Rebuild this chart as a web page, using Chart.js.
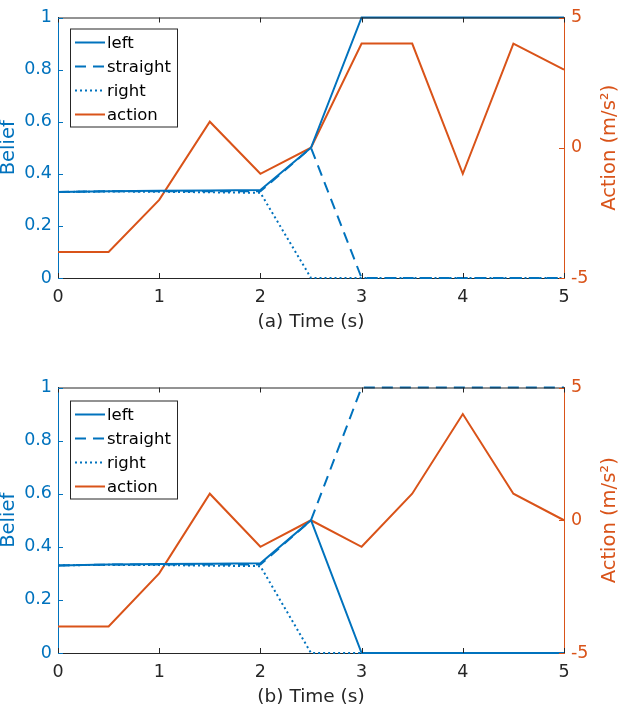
<!DOCTYPE html>
<html>
<head>
<meta charset="utf-8">
<script src="https://cdn.jsdelivr.net/npm/chart.js@4.4.0/dist/chart.umd.min.js"></script>
<style>
  html, body { margin: 0; padding: 0; background: #fff; }
  #wrap { position: relative; width: 624px; height: 710px; }
  canvas { position: absolute; left: 0; }
  #chartA { top: 0; }
  #chartB { top: 370px; }
</style>
</head>
<body>
<div id="wrap">
  <canvas id="chartA" width="624" height="340"></canvas>
  <canvas id="chartB" width="624" height="340"></canvas>
</div>
<script>
// data
const time = [0, 0.5, 1, 1.5, 2, 2.5, 3, 3.5, 4, 4.5, 5];
const xTicks = [0, 1, 2, 3, 4, 5];
const beliefTicks = [0, 0.2, 0.4, 0.6, 0.8, 1];
const actionTicks = [-5, 0, 5];

// (a)
const leftA     = [0.33, 0.333, 0.335, 0.336, 0.338, 0.5, 1, 1, 1, 1, 1];
const straightA = [0.33, 0.333, 0.333, 0.333, 0.333, 0.5, 0, 0, 0, 0, 0];
const rightA    = [0.33, 0.332, 0.331, 0.329, 0.327, 0, 0, 0, 0, 0, 0];
const actionA   = [-4, -4, -2, 1, -1, 0, 4, 4, -1, 4, 3];

// (b)
const leftB     = [0.33, 0.333, 0.335, 0.336, 0.338, 0.5, 0, 0, 0, 0, 0];
const straightB = [0.33, 0.333, 0.333, 0.333, 0.333, 0.5, 1, 1, 1, 1, 1];
const rightB    = [0.33, 0.332, 0.331, 0.329, 0.327, 0, 0, 0, 0, 0, 0];
const actionB   = [-4, -4, -2, 1, -1, 0, -1, 1, 4, 1, 0];

const BLUE = '#0072BD';
const ORANGE = '#D95319';
const DARK = '#262626';
const FONT = '"DejaVu Sans", sans-serif';

function pts(vals) {
  return time.map((t, i) => ({ x: t, y: vals[i] }));
}

// ticks pointing inward, top border, right axis title, boxed legend
const matlabLook = {
  id: 'matlabLook',
  afterDraw(chart) {
    const c = chart.ctx;
    const a = chart.chartArea;
    const xs = chart.scales.x, ys = chart.scales.y, y2 = chart.scales.y2;
    c.save();
    c.lineWidth = 1;

    c.strokeStyle = DARK;
    c.beginPath();
    c.moveTo(a.left, a.top + 0.5);
    c.lineTo(a.right, a.top + 0.5);
    xs.ticks.forEach(t => {
      const px = Math.round(xs.getPixelForValue(t.value)) + 0.5;
      c.moveTo(px, a.bottom); c.lineTo(px, a.bottom - 5);
      c.moveTo(px, a.top); c.lineTo(px, a.top + 5);
    });
    c.stroke();

    c.strokeStyle = BLUE;
    c.beginPath();
    ys.ticks.forEach(t => {
      const py = Math.round(ys.getPixelForValue(t.value)) + 0.5;
      c.moveTo(a.left, py); c.lineTo(a.left + 5, py);
    });
    c.stroke();

    c.strokeStyle = ORANGE;
    c.beginPath();
    y2.ticks.forEach(t => {
      const py = Math.round(y2.getPixelForValue(t.value)) + 0.5;
      c.moveTo(a.right, py); c.lineTo(a.right - 5, py);
    });
    c.stroke();

    // right axis title, reading bottom to top
    c.fillStyle = ORANGE;
    c.font = '19.5px ' + FONT;
    c.textAlign = 'center';
    c.textBaseline = 'middle';
    c.translate(610, (a.top + a.bottom) / 2);
    c.rotate(-Math.PI / 2);
    c.fillText('Action (m/s²)', 0, 0);
    c.restore();

    // legend
    const opts = chart.options.plugins.boxLegend;
    const bx = a.left + 12, by = a.top + opts.offsetY;
    c.save();
    c.fillStyle = '#fff';
    c.fillRect(bx, by, 107, 98);
    c.strokeStyle = DARK;
    c.lineWidth = 1;
    c.strokeRect(bx + 0.5, by + 0.5, 107, 98);
    c.font = '16.5px ' + FONT;
    c.textAlign = 'left';
    c.textBaseline = 'middle';
    chart.data.datasets.forEach((ds, i) => {
      const ly = by + 14 + i * 24;
      c.strokeStyle = ds.borderColor;
      c.lineWidth = ds.borderWidth;
      c.setLineDash(ds.borderDash || []);
      c.beginPath();
      c.moveTo(bx + 5, ly);
      c.lineTo(bx + 35, ly);
      c.stroke();
      c.fillStyle = '#000';
      c.fillText(ds.label, bx + 37, ly + 1);
    });
    c.restore();
  }
};

function makeChart(id, series, label, pad, legendY) {
  const ctx = document.getElementById(id).getContext('2d');
  return new Chart(ctx, {
    type: 'line',
    data: {
      datasets: [
        { label: 'left', data: pts(series[0]), yAxisID: 'y',
          borderColor: BLUE, borderWidth: 2, borderDash: [] },
        { label: 'straight', data: pts(series[1]), yAxisID: 'y',
          borderColor: BLUE, borderWidth: 2, borderDash: [11, 7] },
        { label: 'right', data: pts(series[2]), yAxisID: 'y',
          borderColor: BLUE, borderWidth: 2, borderDash: [2, 3] },
        { label: 'action', data: pts(series[3]), yAxisID: 'y2',
          borderColor: ORANGE, borderWidth: 2, borderDash: [] }
      ]
    },
    options: {
      responsive: false,
      animation: false,
      layout: { padding: pad },
      elements: {
        point: { radius: 0 },
        line: { tension: 0, fill: false }
      },
      datasets: { line: { clip: 4 } },
      plugins: {
        legend: { display: false },
        tooltip: { enabled: false },
        boxLegend: { offsetY: legendY }
      },
      scales: {
        x: {
          type: 'linear',
          min: 0, max: 5,
          afterBuildTicks: s => { s.ticks = xTicks.map(v => ({ value: v })); },
          afterFit: s => { s.height = 57; },
          grid: { display: false, drawTicks: false },
          border: { color: DARK, width: 1 },
          ticks: { color: DARK, padding: 9, font: { family: FONT, size: 17.5 } },
          title: { display: true, text: label, color: DARK,
                   padding: { top: 0, bottom: 2 }, font: { family: FONT, size: 18.5 } }
        },
        y: {
          position: 'left',
          min: 0, max: 1,
          afterBuildTicks: s => { s.ticks = beliefTicks.map(v => ({ value: v })); },
          afterFit: s => { s.width = 58; },
          grid: { display: false, drawTicks: false },
          border: { color: BLUE, width: 1 },
          ticks: { color: BLUE, padding: 6, font: { family: FONT, size: 17.5 },
                   callback: v => String(+v.toFixed(1)) },
          title: { display: true, text: 'Belief', color: BLUE,
                   padding: { top: -1, bottom: 0 },
                   font: { family: FONT, size: 19.5, lineHeight: 1 } }
        },
        y2: {
          position: 'right',
          min: -5, max: 5,
          afterBuildTicks: s => { s.ticks = actionTicks.map(v => ({ value: v })); },
          afterFit: s => { s.width = 60; },
          grid: { display: false, drawTicks: false },
          border: { color: ORANGE, width: 1 },
          ticks: { color: ORANGE, padding: 7, font: { family: FONT, size: 17.5 } },
          title: { display: false }
        }
      }
    },
    plugins: [matlabLook]
  });
}

makeChart('chartA', [leftA, straightA, rightA, actionA], '(a) Time (s)',
  { top: 8, bottom: 5, left: 0, right: 0 }, 11);
makeChart('chartB', [leftB, straightB, rightB, actionB], '(b) Time (s)',
  { top: 14, bottom: 0, left: 0, right: 0 }, 13);
</script>
</body>
</html>
